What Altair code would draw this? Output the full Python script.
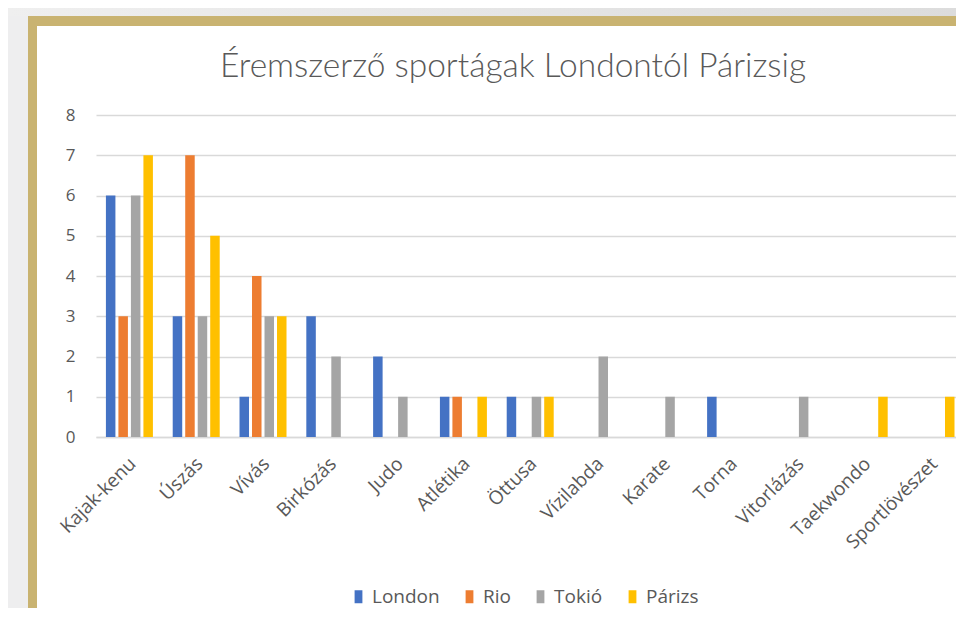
import altair as alt
import pandas as pd

categories = ["Kajak-kenu", "Úszás", "Vívás", "Birkózás", "Judo", "Atlétika", "Öttusa",
              "Vízilabda", "Karate", "Torna", "Vitorlázás", "Taekwondo", "Sportlövészet"]
series = ["London", "Rio", "Tokió", "Párizs"]
london = [6, 3, 1, 3, 2, 1, 1, 0, 0, 1, 0, 0, 0]
rio = [3, 7, 4, 0, 0, 1, 0, 0, 0, 0, 0, 0, 0]
tokio = [6, 3, 3, 2, 1, 0, 1, 2, 1, 0, 1, 0, 0]
parizs = [7, 5, 3, 0, 0, 1, 1, 0, 0, 0, 0, 1, 1]
colors = ["#4472C4", "#ED7D31", "#A5A5A5", "#FFC000"]
y_ticks = [0, 1, 2, 3, 4, 5, 6, 7, 8]
title_text = "Éremszerző sportágak Londontól Párizsig"

rows = []
for name, vals in zip(series, [london, rio, tokio, parizs]):
    for cat, v in zip(categories, vals):
        rows.append({"sport": cat, "series": name, "value": v})
df = pd.DataFrame(rows)

W, H = 860, 322
BOTTOM = 493
one = pd.DataFrame({"a": [0]})


def strip(color, x1, x2, y1, y2):
    return alt.Chart(one).mark_rect(color=color).encode(
        x=alt.value(x1), x2=alt.value(x2), y=alt.value(y1), y2=alt.value(y2))


GRAY_TOP = alt.LinearGradient(gradient="linear", x1=0, x2=1, y1=0, y2=0,
                              stops=[alt.GradientStop(color="#efefef", offset=0),
                                     alt.GradientStop(color="#dcdcdc", offset=1)])
GRAY = "#eeeeef"
GOLD = "#c9b371"
frame = [
    strip(GRAY_TOP, -88, W, -107, -99),
    strip(GRAY, -88, -68, -99, BOTTOM),
    strip(GOLD, -68, W, -99, -89),
    strip(GOLD, -68, -59, -89, BOTTOM),
]

title = alt.Chart(one).mark_text(
    text=title_text, font="Lato", fontWeight=300, fontSize=33.5, color="#595959",
    align="center", baseline="alphabetic",
).encode(x=alt.value(417), y=alt.value(-38))

bars = alt.Chart(df).mark_bar().encode(
    x=alt.X("sport:N", sort=categories,
            scale=alt.Scale(paddingInner=0.2515, paddingOuter=0.063, align=1, round=False),
            axis=alt.Axis(title=None, labelAngle=-45, labelAlign="right", labelBaseline="top",
                          labelFont="Open Sans", labelFontSize=19, labelColor="#595959",
                          labelPadding=17, labelOffset=-3, ticks=False,
                          domainColor="#d9d9d9", domainWidth=1.3, labelOverlap=False)),
    xOffset=alt.XOffset("series:N", sort=series,
                        scale=alt.Scale(paddingInner=0.24, paddingOuter=0.12, round=False)),
    y=alt.Y("value:Q", scale=alt.Scale(domain=[0, 8], nice=False),
            axis=alt.Axis(title=None, values=y_ticks, labelFont="Open Sans", labelFontSize=17,
                          labelColor="#595959", labelPadding=21, ticks=False, domain=False,
                          gridColor="#d9d9d9", gridWidth=1.3)),
    color=alt.Color("series:N", sort=series,
                    scale=alt.Scale(domain=series, range=colors),
                    legend=alt.Legend(title=None, orient="none", legendX=253, legendY=472,
                                      direction="horizontal",
                                      symbolType="M-0.6,-1H0.6V1H-0.6Z", symbolSize=169,
                                      symbolStrokeWidth=0, labelFont="Open Sans",
                                      labelFontSize=19, labelColor="#595959",
                                      labelOffset=4, columnPadding=20)),
)

chart = alt.layer(*frame, title, bars).properties(
    width=W, height=H, padding=0, background="white",
).configure_view(stroke=None)

chart.save("out.html", embed_options={"renderer": "svg", "actions": False})
